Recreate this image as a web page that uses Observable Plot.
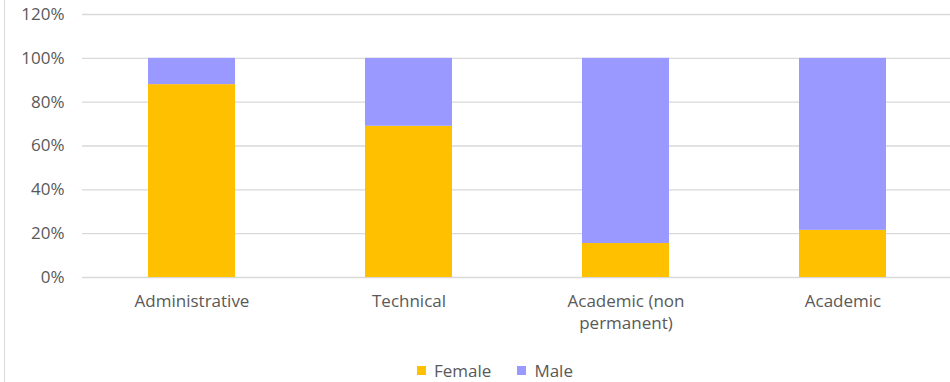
<!DOCTYPE html>
<html>
<head>
<meta charset="utf-8">
<script src="https://cdn.jsdelivr.net/npm/d3@7"></script>
<script src="https://cdn.jsdelivr.net/npm/@observablehq/plot@0.6"></script>
<style>
  html, body { margin: 0; padding: 0; background: #fff; }
  #wrap { position: relative; width: 950px; height: 382px; overflow: hidden; font-family: "Open Sans", sans-serif; }
  #border { position: absolute; left: 4px; top: 0; width: 1px; height: 382px; background: #d9d9d9; }
  #legend { position: absolute; left: 0; top: 356px; width: 950px; height: 28px; display: flex; justify-content: center; align-items: center; gap: 26px; font-size: 17px; color: #595959; padding-left: 40px; box-sizing: border-box; }
  #legend span.sw { display: inline-block; width: 9px; height: 9px; margin-right: 8px; }
  #legend .item { display: flex; align-items: center; }
</style>
</head>
<body>
<div id="wrap">
  <div id="border"></div>
  <div id="chart"></div>
  <div id="legend"></div>
</div>
<script>
const categories = ["Administrative", "Technical", "Academic (non permanent)", "Academic"];
const labels = ["Administrative", "Technical", "Academic (non\npermanent)", "Academic"];
const female = [88, 69, 15.5, 21.5];
const male = [12, 31, 84.5, 78.5];
const series = ["Female", "Male"];
const colors = ["#FFC000", "#9999FF"];
const yTicks = [0, 20, 40, 60, 80, 100, 120];

const data = [];
categories.forEach((c, i) => {
  data.push({category: c, gender: "Female", value: female[i]});
  data.push({category: c, gender: "Male", value: male[i]});
});

const chart = Plot.plot({
  width: 950,
  height: 354,
  marginLeft: 82,
  marginRight: 0,
  marginTop: 14,
  marginBottom: 77,
  style: {fontFamily: "'Open Sans', sans-serif", fontSize: "17px", color: "#595959", background: "transparent"},
  x: {domain: categories, range: [82, 952], paddingInner: 0.6, paddingOuter: 0.3, label: null},
  y: {domain: [0, 120], label: null},
  color: {domain: series, range: colors},
  marks: [
    Plot.ruleY(yTicks, {stroke: "#d9d9d9", strokeWidth: 1.3}),
    Plot.barY(data, {x: "category", y: "value", fill: "gender", order: series}),
    Plot.axisY(yTicks, {tickSize: 0, tickPadding: 18, tickFormat: d => d + "%", fill: "#595959", fontSize: 17}),
    Plot.axisX({tickSize: 0, tickPadding: 14, tickFormat: d => labels[categories.indexOf(d)], fill: "#595959", fontSize: 17, lineHeight: 1.3})
  ]
});
document.getElementById("chart").appendChild(chart);

const legend = document.getElementById("legend");
series.forEach((s, i) => {
  const item = document.createElement("div");
  item.className = "item";
  item.innerHTML = `<span class="sw" style="background:${colors[i]}"></span><span>${s}</span>`;
  legend.appendChild(item);
});
</script>
</body>
</html>
